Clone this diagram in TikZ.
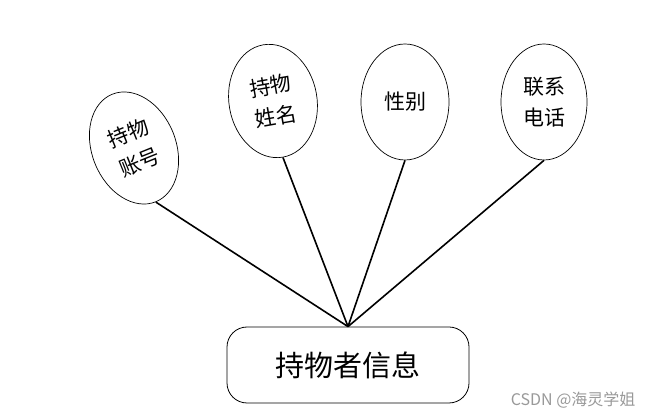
\documentclass[tikz,border=0pt]{standalone}
\usepackage{fontspec}
\setmainfont{Noto Sans CJK SC}
\newfontfamily\cjk{Noto Sans CJK SC}
\usetikzlibrary{shapes.geometric}
\begin{document}
\begin{tikzpicture}[x=1pt,y=1pt,
  attr/.style={draw, ellipse, line width=0.7pt, inner sep=0pt, align=center,
    font=\cjk\fontsize{21}{31}\selectfont},
  entity/.style={draw, rounded corners=20pt, line width=0.8pt, minimum width=242pt,
    minimum height=76pt, font=\cjk\fontsize{29}{34}\selectfont},
  link/.style={line width=1.6pt}]
\useasboundingbox (0,0) rectangle (653,417);
\node[attr, minimum width=84pt, minimum height=116pt, rotate=22] (e1) at (134,269) {持物\\账号};
\node[attr, minimum width=88pt, minimum height=114pt, rotate=10] (e2) at (273,316) {持物\\姓名};
\node[attr, minimum width=88pt, minimum height=116pt] (e3) at (405,315) {性别};
\node[attr, minimum width=86pt, minimum height=116pt] (e4) at (544,315) {联系\\电话};
\node[entity] (r) at (348,52) {持物者信息};
\draw[link] (e1.south) -- (r.north);
\draw[link] (e2.south) -- (r.north);
\draw[link] (e3.south) -- (r.north);
\draw[link] (e4.south) -- (r.north);
\node[text=black!40, font=\cjk\fontsize{16}{18}\selectfont, anchor=east] (wm) at (639,17) {CSDN @海灵学姐};
\end{tikzpicture}
\end{document}
